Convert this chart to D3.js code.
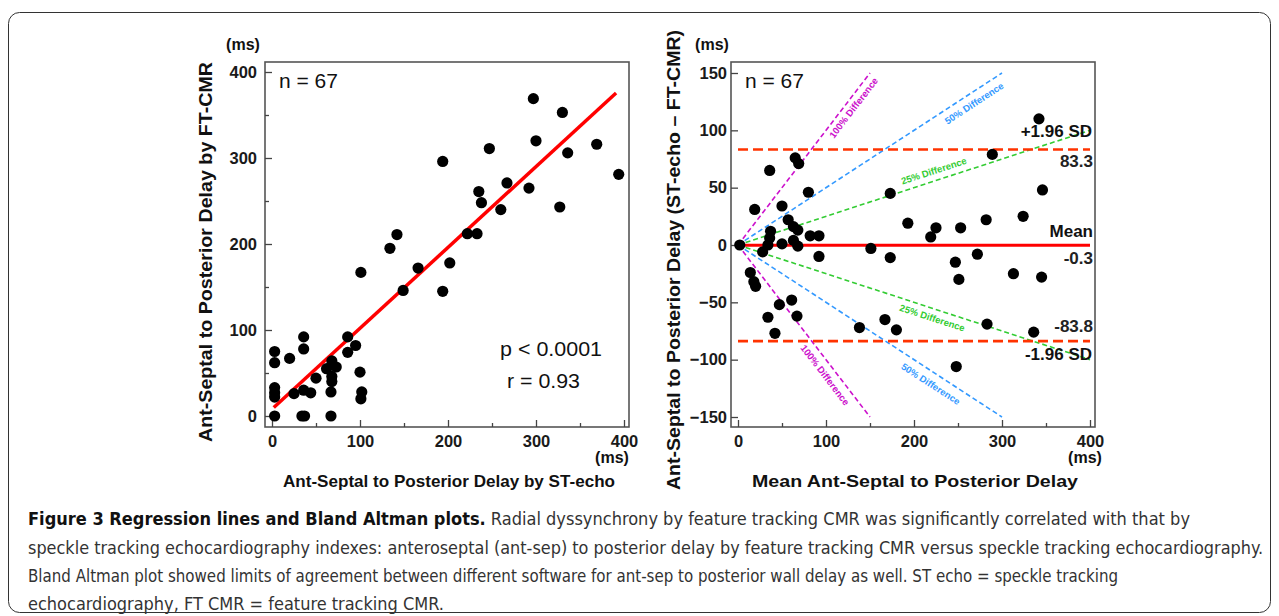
<!DOCTYPE html>
<html>
<head>
<meta charset="utf-8">
<script src="https://cdn.jsdelivr.net/npm/d3@7"></script>
<style>
  body { margin: 0; background: #fff; }
  svg text { font-family: "Liberation Sans", Arial, sans-serif; }
</style>
</head>
<body>
<svg width="1279" height="616"></svg>
<script>
// ---- data ----
// left panel: ST-echo delay (x) vs FT-CMR delay (y), ms
var echoDelay = [3, 3, 3, 3, 3, 3, 20, 25, 34, 37, 36, 36, 36, 44, 50, 62, 68, 73, 68, 68, 67, 67,
                 86, 95, 86, 100, 102, 101, 101, 134, 142, 149, 166, 194, 202, 194, 222, 233, 235,
                 238, 247, 260, 267, 292, 297, 300, 327, 330, 336, 369, 394];
var cmrDelay  = [75, 62, 33, 27, 22, 0, 67, 26, 0, 0, 92, 78, 30, 27, 44, 55, 64, 57, 46, 40, 28, 0,
                 92, 82, 74, 51, 28, 20, 167, 195, 211, 146, 172, 145, 178, 296, 212, 212, 261,
                 248, 311, 240, 271, 265, 369, 320, 243, 353, 306, 316, 281];
var regSlope = 0.94, regIntercept = 8, regRange = [2, 391];

// right panel: mean delay (x) vs difference ST-echo - FT-CMR (y), ms
var meanDelay = [2, 65, 69, 36, 80, 19, 50, 57, 63, 68, 37, 36, 34, 50, 63, 68, 82, 92, 28, 92, 151,
                 14, 18, 20, 47, 61, 34, 67, 42, 138, 342, 289, 173, 346, 193, 225, 219, 253, 282,
                 324, 173, 247, 251, 272, 313, 345, 167, 180, 283, 336, 248];
var diffDelay = [0, 76, 71, 65, 46, 31, 34, 22, 16, 13, 12, 6, 0, 1, 4, -1, 8, 8, -6, -10, -3,
                 -24, -32, -36, -52, -48, -63, -62, -77, -72, 110, 79, 45, 48, 19, 15, 7, 15, 22,
                 25, -11, -15, -30, -8, -25, -28, -65, -74, -69, -76, -106];
var meanDiff = -0.3, upperLoA = 83.3, lowerLoA = -83.8;
var pctNames = ["100%", "50%", "25%"];
var pctValues = [1, 0.5, 0.25];

var xTicks = [0, 100, 200, 300, 400], xMinor = [50, 150, 250, 350];
var yTicksL = [0, 100, 200, 300, 400], yMinorL = [50, 150, 250, 350];
var yTicksR = [-150, -100, -50, 0, 50, 100, 150];

var captionLines = [
  "Radial dyssynchrony by feature tracking CMR was significantly correlated with that by",
  "speckle tracking echocardiography indexes: anteroseptal (ant-sep) to posterior delay by feature tracking CMR versus speckle tracking echocardiography.",
  "Bland Altman plot showed limits of agreement between different software for ant-sep to posterior wall delay as well. ST echo = speckle tracking",
  "echocardiography, FT CMR = feature tracking CMR."
];

// ---- styles ----
var pctColor = {"100%": "#cc11cc", "50%": "#3399ff", "25%": "#33cc33"};
var loaColor = "#ff3300";

var svg = d3.select("svg");
svg.append("rect").attr("width", 1279).attr("height", 616).attr("fill", "#fff");
svg.append("rect")
    .attr("x", 8.5).attr("y", 12.5).attr("width", 1262).attr("height", 600)
    .attr("rx", 11).attr("fill", "none").attr("stroke", "#333").attr("stroke-width", 1);

function styleAxis(g, pad) {
  g.select(".domain").remove();
  g.selectAll(".tick line").attr("stroke", "#444").attr("stroke-width", 1.3);
  g.selectAll("text")
      .style("font-size", "16.5px").style("font-weight", "bold")
      .attr("fill", "#1a1a1a");
}

function drawFrame(f) {
  svg.append("rect")
      .attr("x", f.x0).attr("y", f.y0).attr("width", f.x1 - f.x0).attr("height", f.y1 - f.y0)
      .attr("fill", "none").attr("stroke", "#555").attr("stroke-width", 1.6);
}

function axes(x, y, f, yTicks, yMinor, yPad) {
  var gx = svg.append("g").attr("transform", "translate(0," + f.y1 + ")")
      .call(d3.axisBottom(x).tickValues(xTicks).tickSize(-7).tickPadding(8).tickFormat(d3.format("d")));
  styleAxis(gx);
  var gxm = svg.append("g").attr("transform", "translate(0," + f.y1 + ")")
      .call(d3.axisBottom(x).tickValues(xMinor).tickSize(-4).tickFormat(""));
  styleAxis(gxm);
  var gy = svg.append("g").attr("transform", "translate(" + f.x0 + ",0)")
      .call(d3.axisLeft(y).tickValues(yTicks).tickSize(-7).tickPadding(yPad).tickFormat(d3.format("d")));
  styleAxis(gy);
  gy.selectAll("text").attr("x", -yPad);
  if (yMinor) {
    var gym = svg.append("g").attr("transform", "translate(" + f.x0 + ",0)")
        .call(d3.axisLeft(y).tickValues(yMinor).tickSize(-4).tickFormat(""));
    styleAxis(gym);
  }
}

function label(txt, x, y, size, weight, anchor, len) {
  var t = svg.append("text").attr("x", x).attr("y", y).text(txt)
      .style("font-size", size + "px").style("font-weight", weight)
      .attr("text-anchor", anchor || "start").attr("fill", "#111");
  if (len) t.attr("textLength", len).attr("lengthAdjust", "spacingAndGlyphs");
  return t;
}

// ================= left panel =================
var fL = {x0: 265, x1: 629, y0: 62, y1: 427};
var xL = d3.scaleLinear().domain([0, 400]).range([272, 624]);
var yL = d3.scaleLinear().domain([0, 400]).range([416, 72]);

drawFrame(fL);
axes(xL, yL, fL, yTicksL, yMinorL, 8);

svg.append("line")
    .attr("x1", xL(regRange[0])).attr("y1", yL(regIntercept + regSlope * regRange[0]))
    .attr("x2", xL(regRange[1])).attr("y2", yL(regIntercept + regSlope * regRange[1]))
    .attr("stroke", "#ff0000").attr("stroke-width", 3.5);

svg.append("g").selectAll("circle")
    .data(d3.range(echoDelay.length))
    .enter().append("circle")
      .attr("cx", function(i) { return xL(echoDelay[i]); })
      .attr("cy", function(i) { return yL(cmrDelay[i]); })
      .attr("r", 5.6).attr("fill", "#000");

label("n = 67", 279, 88, 21, "normal");
label("p < 0.0001", 500, 356, 21, "normal", "start", 102);
label("r = 0.93", 507, 388, 21, "normal", "start", 73);
label("(ms)", 243, 50, 16, "bold", "middle");
label("(ms)", 612, 463, 16, "bold", "middle");
label("Ant-Septal to Posterior Delay by ST-echo", 449, 487, 17, "bold", "middle", 332);
label("Ant-Septal to Posterior Delay by FT-CMR", 0, 0, 18, "bold", "middle", 380)
    .attr("transform", "translate(212,252) rotate(-90)");

// ================= right panel =================
var fR = {x0: 731, x1: 1095, y0: 62, y1: 427};
var xR = d3.scaleLinear().domain([0, 400]).range([738, 1090]);
var yR = d3.scaleLinear().domain([-150, 150]).range([417, 73]);

drawFrame(fR);
axes(xR, yR, fR, yTicksR, null, 4);

// percent-difference guide lines
pctNames.forEach(function(name, k) {
  var p = pctValues[k];
  var xe = Math.min(400, 150 / p);
  [1, -1].forEach(function(s) {
    svg.append("line")
        .attr("x1", xR(0)).attr("y1", yR(0))
        .attr("x2", xR(xe)).attr("y2", yR(s * p * xe))
        .attr("stroke", pctColor[name]).attr("stroke-width", 1.6)
        .attr("stroke-dasharray", "5,3");
  });
});

// label placement along each guide: [name, sign, x position, perpendicular offset]
var guideLabels = [["100%", 1, 124, 8], ["100%", -1, 108, 10],
                   ["50%", 1, 262, 10], ["50%", -1, 226, 11],
                   ["25%", 1, 226, -10], ["25%", -1, 224, 9]];
guideLabels.forEach(function(g) {
  var p = pctValues[pctNames.indexOf(g[0])];
  var px = xR(g[2]), py = yR(g[1] * p * g[2]);
  var ang = Math.atan2(yR(g[1] * p * 100) - yR(0), xR(100) - xR(0)) * 180 / Math.PI;
  svg.append("text")
      .attr("transform", "translate(" + px + "," + py + ") rotate(" + ang + ") translate(0," + g[3] + ")")
      .attr("text-anchor", "middle").attr("dominant-baseline", "central")
      .style("font-size", "9.5px").style("font-weight", "bold")
      .attr("fill", pctColor[g[0]])
      .text(g[0] + " Difference");
});

// limits of agreement and mean
[upperLoA, lowerLoA].forEach(function(v) {
  svg.append("line")
      .attr("x1", xR(0)).attr("x2", xR(400)).attr("y1", yR(v)).attr("y2", yR(v))
      .attr("stroke", loaColor).attr("stroke-width", 2.6).attr("stroke-dasharray", "10,5");
});
svg.append("line")
    .attr("x1", xR(0)).attr("x2", xR(400)).attr("y1", yR(meanDiff)).attr("y2", yR(meanDiff))
    .attr("stroke", "#ff0000").attr("stroke-width", 3);

svg.append("g").selectAll("circle")
    .data(d3.range(meanDelay.length))
    .enter().append("circle")
      .attr("cx", function(i) { return xR(meanDelay[i]); })
      .attr("cy", function(i) { return yR(diffDelay[i]); })
      .attr("r", 5.6).attr("fill", "#000");

label("+1.96 SD", 1092, 137, 17, "bold", "end");
label(String(upperLoA), 1093, 167, 17, "bold", "end").attr("fill", "#222");
label("Mean", 1093, 237, 17, "bold", "end");
label(String(meanDiff), 1093, 264, 17, "bold", "end").attr("fill", "#222");
label(String(lowerLoA), 1093, 332, 17, "bold", "end").attr("fill", "#222");
label("-1.96 SD", 1092, 360, 17, "bold", "end");

label("n = 67", 745, 88, 21, "normal");
label("(ms)", 712, 50, 16, "bold", "middle");
label("(ms)", 1085, 463, 16, "bold", "middle");
label("Mean Ant-Septal to Posterior Delay", 915, 487, 17, "bold", "middle", 326);
label("Ant-Septal to Posterior Delay (ST-echo \u2013 FT-CMR)", 0, 0, 18, "bold", "middle", 460)
    .attr("transform", "translate(680,260) rotate(-90)");

// ================= caption =================
var capBase = [525, 554, 582, 610], capEnd = [1190, 1263, 1118, 444];
captionLines.forEach(function(line, i) {
  var t = svg.append("text").attr("x", 28).attr("y", capBase[i])
      .attr("textLength", capEnd[i] - 28).attr("lengthAdjust", "spacingAndGlyphs")
      .style("font-family", "'Liberation Sans Narrow', 'DejaVu Sans Condensed', sans-serif")
      .style("font-size", "18px").attr("fill", "#333");
  if (i === 0) {
    t.append("tspan").style("font-weight", "bold").attr("fill", "#111")
        .text("Figure 3 Regression lines and Bland Altman plots.");
    t.append("tspan").text(" " + line);
  } else {
    t.text(line);
  }
});
</script>
</body>
</html>
